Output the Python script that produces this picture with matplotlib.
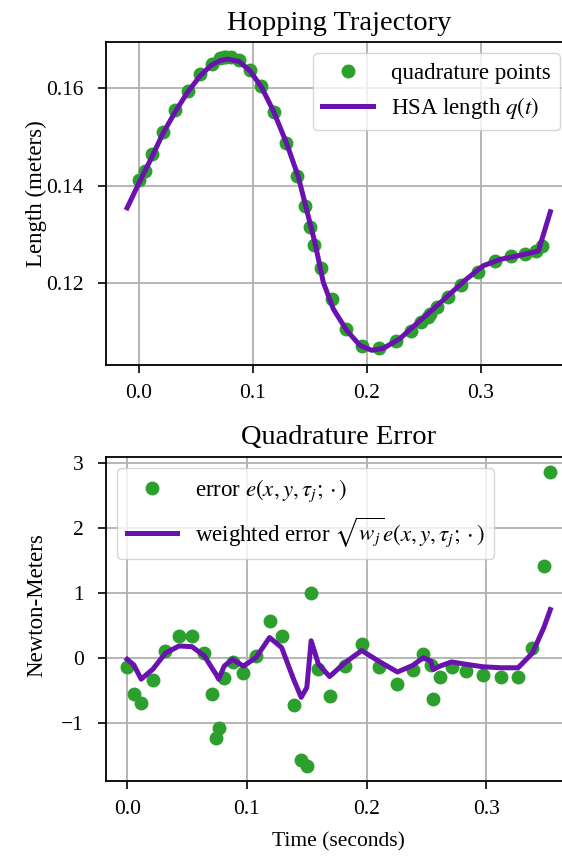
import numpy as np
import matplotlib
matplotlib.use("Agg")
import matplotlib.pyplot as plt

plt.rcParams['font.family'] = ['Liberation Serif', 'DejaVu Serif']
plt.rcParams['mathtext.fontset'] = 'stix'
plt.rcParams['font.size'] = 15.5
plt.rcParams['axes.linewidth'] = 1.3
plt.rcParams['xtick.major.size'] = 6
plt.rcParams['ytick.major.size'] = 6
plt.rcParams['xtick.major.width'] = 1.2
plt.rcParams['ytick.major.width'] = 1.2
plt.rcParams['xtick.major.pad'] = 8
plt.rcParams['ytick.major.pad'] = 10
plt.rcParams['grid.linewidth'] = 1.3

# quadrature times (seconds)
t_quad = [0.0, 0.0055, 0.0117, 0.0213, 0.032, 0.0433, 0.054, 0.0644, 0.0708, 0.0744,
          0.0764, 0.081, 0.088, 0.097, 0.1075, 0.1189, 0.129, 0.1389, 0.1453, 0.15,
          0.1536, 0.1597, 0.169, 0.182, 0.1958, 0.2106, 0.2256, 0.2383, 0.2472, 0.2533,
          0.2555, 0.2611, 0.2708, 0.2825, 0.2972, 0.312, 0.3264, 0.3383, 0.3478, 0.3533]

# length at quadrature points (meters)
len_quad = [0.1412, 0.1429, 0.1464, 0.1510, 0.1556, 0.1595, 0.1629, 0.1650, 0.1662, 0.1665,
            0.1665, 0.1665, 0.1658, 0.1638, 0.1604, 0.1552, 0.1488, 0.1420, 0.1357, 0.1315,
            0.1277, 0.1230, 0.1167, 0.1104, 0.1070, 0.1065, 0.1080, 0.1100, 0.1119, 0.1130,
            0.1136, 0.1150, 0.1170, 0.1195, 0.1222, 0.1245, 0.1254, 0.1259, 0.1265, 0.1276]

# HSA length curve q(t)
t_curve = [-0.0103, 0.0, 0.0117, 0.0208, 0.0322, 0.0427, 0.0535, 0.0632, 0.0711, 0.078,
           0.088, 0.0974, 0.1076, 0.1178, 0.1295, 0.1398, 0.1485, 0.1544, 0.1617, 0.1705,
           0.1822, 0.1939, 0.2041, 0.2143, 0.2289, 0.2436, 0.2582, 0.2728, 0.2875, 0.3020,
           0.3167, 0.3313, 0.3503, 0.3608]
len_curve = [0.1354, 0.1405, 0.1460, 0.1506, 0.1553, 0.1592, 0.1625, 0.1647, 0.1657, 0.1660,
             0.1655, 0.1636, 0.1602, 0.1554, 0.1487, 0.1418, 0.1337, 0.1282, 0.1201, 0.1146,
             0.1102, 0.1071, 0.1061, 0.1065, 0.1085, 0.1116, 0.1146, 0.1177, 0.1208, 0.1235,
             0.1248, 0.1255, 0.1265, 0.1346]

# quadrature error (Newton-meters)
err = [-0.14, -0.55, -0.68, -0.34, 0.11, 0.35, 0.34, 0.08, -0.55, -1.22,
       -1.07, -0.31, -0.06, -0.23, 0.04, 0.57, 0.35, -0.72, -1.56, -1.66,
       1.0, -0.16, -0.58, -0.12, 0.215, -0.14, -0.40, -0.18, 0.07, -0.11,
       -0.63, -0.28, -0.13, -0.19, -0.26, -0.29, -0.29, 0.165, 1.42, 2.87]
weighted_err = [-0.015, -0.10, -0.32, -0.17, 0.08, 0.19, 0.18, 0.04, -0.15, -0.25,
                -0.32, -0.12, -0.015, -0.12, 0.01, 0.32, 0.165, -0.32, -0.60, -0.45,
                0.27, -0.09, -0.28, -0.065, 0.12, -0.05, -0.21, -0.11, 0.01, -0.04,
                -0.17, -0.12, -0.055, -0.09, -0.13, -0.145, -0.145, 0.08, 0.47, 0.75]

green = '#2ca02c'
purple = '#6a12b0'

fig = plt.figure(figsize=(5.62, 8.59), dpi=100)
# right edge of both panels runs off the canvas, as in the original crop
ax1 = fig.add_axes([0.1886, 0.5751, 0.8283, 0.3760])
ax2 = fig.add_axes([0.1886, 0.0908, 0.8283, 0.3772])

# top: trajectory
ax1.plot(t_quad, len_quad, 'o', color=green, markersize=9, label='quadrature points')
ax1.plot(t_curve, len_curve, '-', color=purple, linewidth=3.6, label=r'HSA length $q(t)$')
ax1.set_title('Hopping Trajectory', fontsize=20.5, pad=9)
ax1.set_ylabel('Length (meters)', fontsize=16.5)
ax1.yaxis.set_label_coords(-0.127, 0.531)
ax1.set_xticks([0.0, 0.1, 0.2, 0.3])
ax1.set_yticks([0.12, 0.14, 0.16])
ax1.grid(True)
ax1.set_axisbelow(True)
ax1.legend(loc='upper right', fontsize=16.5, handlelength=2.2)

# bottom: error
ax2.plot(t_quad, err, 'o', color=green, markersize=9, label=r'error $e(x,y,\tau_j;\cdot)$')
ax2.plot(t_quad, weighted_err, '-', color=purple, linewidth=3.6,
         label=r'weighted error $\sqrt{w_j}e(x,y,\tau_j;\cdot)$')
ax2.set_title('Quadrature Error', fontsize=20.5, pad=9)
ax2.set_xlabel('Time (seconds)', fontsize=15.5, labelpad=9)
ax2.set_ylabel('Newton-Meters', fontsize=16.5)
ax2.yaxis.set_label_coords(-0.127, 0.542)
ax2.set_xticks([0.0, 0.1, 0.2, 0.3])
ax2.set_yticks([-1, 0, 1, 2, 3])
ax2.grid(True)
ax2.set_axisbelow(True)
ax2.legend(loc='upper left', fontsize=16.5, handlelength=2.2)

fig.savefig('out.png', dpi=100)
